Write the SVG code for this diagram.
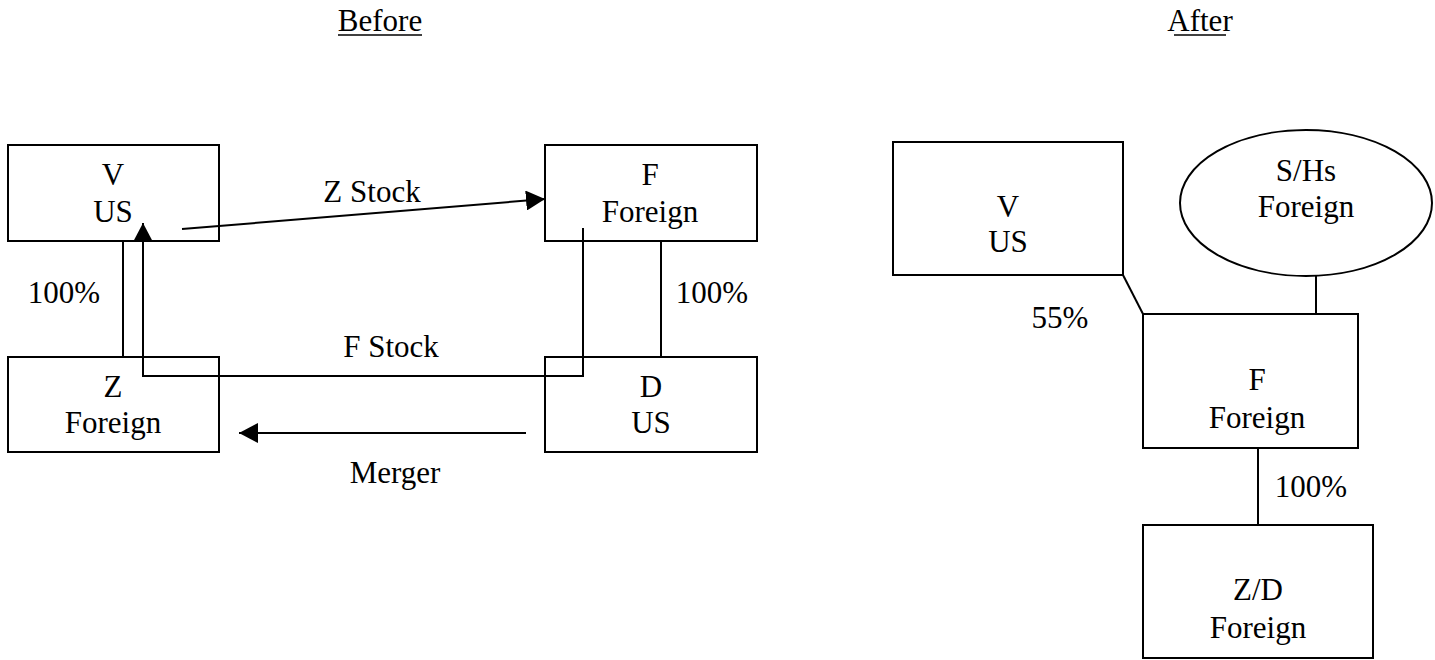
<svg xmlns="http://www.w3.org/2000/svg" width="1435" height="660" viewBox="0 0 1435 660">
  <style>
    .box { fill: #fff; stroke: #000; stroke-width: 2; }
    .ln { fill: none; stroke: #000; stroke-width: 2; }
    .t { font-family: "Liberation Serif", "Times New Roman", serif; font-size: 31px; fill: #000; text-anchor: middle; }
    .ul { stroke: #000; stroke-width: 1.6; }
  </style>
  <defs>
    <marker id="arrow" markerUnits="userSpaceOnUse" markerWidth="20" markerHeight="20" viewBox="0 0 20 20" refX="19" refY="10" orient="auto">
      <path d="M0,0 L19,10 L0,20 Z" fill="#000"/>
    </marker>
  </defs>

  <rect width="1435" height="660" fill="#fff"/>

  <!-- column headings -->
  <g id="heading-before">
    <text class="t" x="380" y="31">Before</text>
    <line class="ul" x1="338" y1="35" x2="422" y2="35"/>
  </g>
  <g id="heading-after">
    <text class="t" x="1200" y="31">After</text>
    <line class="ul" x1="1174" y1="35" x2="1226" y2="35"/>
  </g>

  <!-- before: entities -->
  <g id="before-v">
    <rect class="box" x="8" y="145" width="211" height="96"/>
    <text class="t" x="113" y="185">V</text>
    <text class="t" x="113" y="222">US</text>
  </g>
  <g id="before-f">
    <rect class="box" x="545" y="145" width="212" height="96"/>
    <text class="t" x="650" y="185">F</text>
    <text class="t" x="650" y="222">Foreign</text>
  </g>
  <g id="before-z">
    <rect class="box" x="8" y="357" width="211" height="95"/>
    <text class="t" x="113" y="397">Z</text>
    <text class="t" x="113" y="433">Foreign</text>
  </g>
  <g id="before-d">
    <rect class="box" x="545" y="357" width="212" height="95"/>
    <text class="t" x="651" y="397">D</text>
    <text class="t" x="651" y="433">US</text>
  </g>

  <!-- after: entities -->
  <g id="after-v">
    <rect class="box" x="893" y="142" width="230" height="133"/>
    <text class="t" x="1008" y="217">V</text>
    <text class="t" x="1008" y="252">US</text>
  </g>
  <g id="after-shs">
    <ellipse class="box" cx="1306" cy="203" rx="126" ry="73"/>
    <text class="t" x="1306" y="181">S/Hs</text>
    <text class="t" x="1306" y="217">Foreign</text>
  </g>
  <g id="after-f">
    <rect class="box" x="1143" y="314" width="215" height="134"/>
    <text class="t" x="1257" y="390">F</text>
    <text class="t" x="1257" y="428">Foreign</text>
  </g>
  <g id="after-zd">
    <rect class="box" x="1143" y="525" width="230" height="133"/>
    <text class="t" x="1258" y="600">Z/D</text>
    <text class="t" x="1258" y="638">Foreign</text>
  </g>

  <!-- connectors (drawn over the boxes they start or pass inside) -->
  <g id="connectors">
    <!-- before: ownership links -->
    <line class="ln" x1="123" y1="241" x2="123" y2="357"/>
    <line class="ln" x1="661" y1="241" x2="661" y2="357"/>
    <!-- before: share flows -->
    <line class="ln" x1="182" y1="229" x2="545" y2="199" marker-end="url(#arrow)"/>
    <path class="ln" d="M583,228 V376 H143 V223" marker-end="url(#arrow)"/>
    <line class="ln" x1="526" y1="433" x2="239" y2="433" marker-end="url(#arrow)"/>
    <!-- after: ownership links -->
    <line class="ln" x1="1123" y1="275" x2="1143" y2="314"/>
    <line class="ln" x1="1316" y1="276" x2="1316" y2="314"/>
    <line class="ln" x1="1258" y1="448" x2="1258" y2="525"/>
  </g>

  <!-- edge labels -->
  <g id="labels">
    <text class="t" x="372" y="202">Z Stock</text>
    <text class="t" x="391" y="357">F Stock</text>
    <text class="t" x="395" y="483">Merger</text>
    <text class="t" x="64" y="303">100%</text>
    <text class="t" x="712" y="303">100%</text>
    <text class="t" x="1060" y="328">55%</text>
    <text class="t" x="1311" y="497">100%</text>
  </g>
</svg>
